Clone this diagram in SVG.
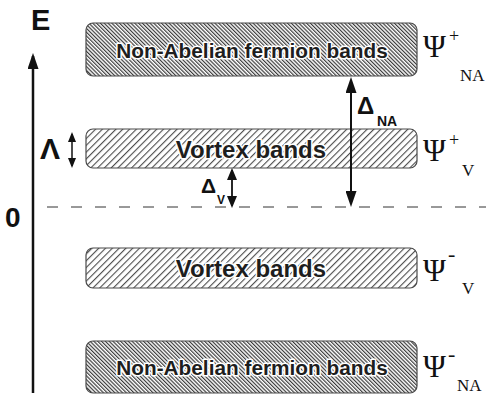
<svg xmlns="http://www.w3.org/2000/svg" width="489" height="396" viewBox="0 0 489 396">
  <style>
    .band { stroke: #4a4a4a; stroke-width: 1.2; }
    .band-text { font-family: "Liberation Sans", Arial, sans-serif; font-weight: bold; fill: #1e1e1e; stroke: #ffffff; stroke-width: 3; paint-order: stroke; stroke-linejoin: round; text-anchor: middle; }
    .greek { font-family: "Liberation Sans", Arial, sans-serif; font-weight: bold; fill: #111; }
    .psi { font-family: "Liberation Serif", "Times New Roman", serif; fill: #111; }
    .conn { stroke: #111; fill: none; }
  </style>
  <defs>
    <pattern id="hatch-dense" patternUnits="userSpaceOnUse" width="2.7" height="2.7" patternTransform="rotate(-45)">
      <rect width="2.7" height="2.7" fill="#ffffff"/>
      <line x1="0.6" y1="0" x2="0.6" y2="2.7" stroke="#333333" stroke-width="1.15"/>
    </pattern>
    <pattern id="hatch-sparse" patternUnits="userSpaceOnUse" width="4.8" height="4.8" patternTransform="rotate(45)">
      <rect width="4.8" height="4.8" fill="#ffffff"/>
      <line x1="0.6" y1="0" x2="0.6" y2="4.8" stroke="#3a3a3a" stroke-width="1"/>
    </pattern>
    <marker id="head-lg" markerUnits="userSpaceOnUse" markerWidth="16" markerHeight="11" viewBox="0 0 16 11" refX="13" refY="5.5" orient="auto-start-reverse">
      <path d="M0,0 L16,5.5 L0,11 z" fill="#111"/>
    </marker>
    <marker id="head-md" markerUnits="userSpaceOnUse" markerWidth="12" markerHeight="10" viewBox="0 0 12 10" refX="10" refY="5" orient="auto-start-reverse">
      <path d="M0,0 L12,5 L0,10 z" fill="#111"/>
    </marker>
    <marker id="head-sm" markerUnits="userSpaceOnUse" markerWidth="10" markerHeight="8" viewBox="0 0 10 8" refX="8" refY="4" orient="auto-start-reverse">
      <path d="M0,0 L10,4 L0,8 z" fill="#111"/>
    </marker>
  </defs>

  <rect width="489" height="396" fill="#ffffff"/>

  <!-- energy axis -->
  <g id="axis">
    <line class="conn" x1="33" y1="393" x2="33" y2="56" stroke-width="2.5" marker-end="url(#head-lg)"/>
    <text class="greek" x="31" y="30" font-size="29">E</text>
    <text class="greek" x="5" y="227" font-size="28">0</text>
  </g>

  <!-- zero energy level -->
  <g id="zero-level">
    <line x1="47" y1="207" x2="486" y2="207" stroke="#333" stroke-width="1" stroke-dasharray="11 13"/>
  </g>

  <!-- bands -->
  <g id="na-plus">
    <rect class="band" x="86" y="23" width="331" height="53" rx="7" fill="url(#hatch-dense)"/>
    <text class="band-text" x="252" y="58" font-size="20.8">Non-Abelian fermion bands</text>
    <text class="psi" x="423" y="57" font-size="31">Ψ</text>
    <text class="psi" x="449" y="42" font-size="18">+</text>
    <text class="psi" x="460" y="81" font-size="17">NA</text>
  </g>

  <g id="v-plus">
    <rect class="band" x="86" y="129" width="331" height="39" rx="7" fill="url(#hatch-sparse)"/>
    <text class="band-text" x="251" y="157.5" font-size="24">Vortex bands</text>
    <text class="psi" x="423" y="161" font-size="31">Ψ</text>
    <text class="psi" x="449" y="146" font-size="18">+</text>
    <text class="psi" x="462" y="176" font-size="17">V</text>
  </g>

  <g id="v-minus">
    <rect class="band" x="86" y="248" width="331" height="40" rx="7" fill="url(#hatch-sparse)"/>
    <text class="band-text" x="251" y="277" font-size="24">Vortex bands</text>
    <text class="psi" x="423" y="281" font-size="31">Ψ</text>
    <text class="psi" x="448" y="261" font-size="22">-</text>
    <text class="psi" x="462" y="294" font-size="17">V</text>
  </g>

  <g id="na-minus">
    <rect class="band" x="86" y="341" width="331" height="52" rx="7" fill="url(#hatch-dense)"/>
    <text class="band-text" x="252" y="375" font-size="20.8">Non-Abelian fermion bands</text>
    <text class="psi" x="423" y="377" font-size="31">Ψ</text>
    <text class="psi" x="448" y="361" font-size="22">-</text>
    <text class="psi" x="457" y="391" font-size="17">NA</text>
  </g>

  <!-- gap and width indicators -->
  <g id="connectors">
    <line class="conn" x1="72" y1="134" x2="72" y2="166" stroke-width="1.5" marker-start="url(#head-sm)" marker-end="url(#head-sm)"/>
    <line class="conn" x1="232" y1="170" x2="232" y2="206" stroke-width="1.8" marker-start="url(#head-md)" marker-end="url(#head-md)"/>
    <line class="conn" x1="351" y1="80" x2="351" y2="204" stroke-width="2" marker-start="url(#head-lg)" marker-end="url(#head-lg)"/>
  </g>

  <g id="labels">
    <text class="greek" x="40" y="159" font-size="30">Λ</text>
    <text class="greek" x="201" y="193" font-size="21">Δ</text>
    <text class="greek" x="217" y="204" font-size="12">V</text>
    <text class="greek" x="357" y="114" font-size="24">Δ</text>
    <text class="greek" x="377" y="126" font-size="14">NA</text>
  </g>
</svg>
